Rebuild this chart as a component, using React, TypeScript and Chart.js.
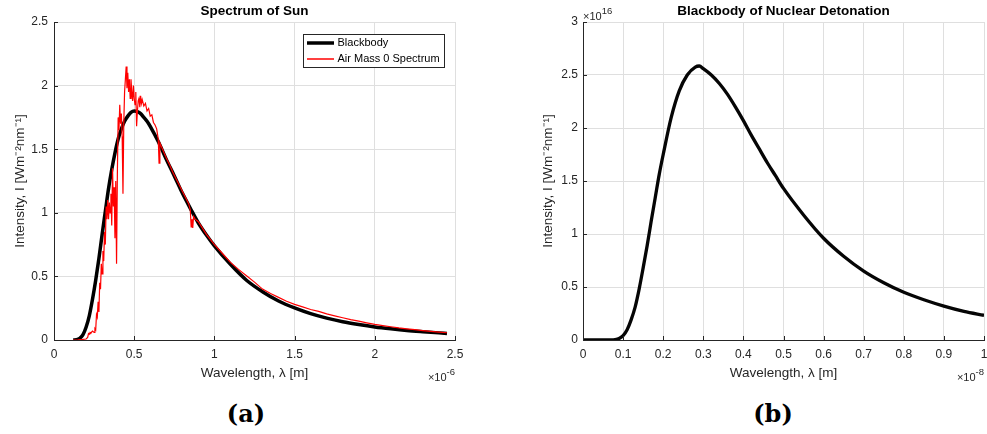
import React, { useEffect, useRef } from "react";
import { Chart, registerables } from "chart.js";
Chart.register(...registerables);

// ---------- Data (panel a: Spectrum of Sun, x in 1e-6 m) ----------
const sunBlackbodyWl = [0.12, 0.14, 0.16, 0.18, 0.2, 0.22, 0.24, 0.26, 0.28, 0.3, 0.32, 0.34, 0.36, 0.38, 0.4, 0.42, 0.44, 0.46, 0.48, 0.5, 0.52, 0.54, 0.56, 0.58, 0.6, 0.65, 0.7, 0.75, 0.8, 0.85, 0.9, 0.95, 1.0, 1.1, 1.2, 1.3, 1.4, 1.5, 1.6, 1.7, 1.8, 1.9, 2.0, 2.1, 2.2, 2.3, 2.4, 2.45];
const sunBlackbodyI = [0.0, 0.002, 0.012, 0.04, 0.1, 0.19, 0.32, 0.47, 0.64, 0.83, 1.01, 1.19, 1.34, 1.47, 1.58, 1.66, 1.72, 1.76, 1.79, 1.8, 1.795, 1.78, 1.75, 1.72, 1.68, 1.56, 1.42, 1.29, 1.155, 1.035, 0.92, 0.825, 0.74, 0.595, 0.47, 0.38, 0.307, 0.252, 0.207, 0.172, 0.144, 0.122, 0.103, 0.088, 0.075, 0.065, 0.056, 0.052];

const am0Wl = [0.12, 0.15, 0.18, 0.2, 0.21, 0.215, 0.22, 0.225, 0.23, 0.24, 0.25, 0.255, 0.26, 0.265, 0.27, 0.275, 0.28, 0.285, 0.29, 0.295, 0.3, 0.305, 0.31, 0.315, 0.32, 0.325, 0.33, 0.335, 0.34, 0.345, 0.35, 0.355, 0.36, 0.365, 0.37, 0.375, 0.38, 0.385, 0.39, 0.395, 0.4, 0.405, 0.41, 0.415, 0.42, 0.425, 0.43, 0.435, 0.44, 0.445, 0.45, 0.455, 0.46, 0.465, 0.47, 0.475, 0.48, 0.485, 0.49, 0.495, 0.5, 0.505, 0.51, 0.515, 0.52, 0.525, 0.53, 0.535, 0.54, 0.545, 0.55, 0.56, 0.57, 0.58, 0.59, 0.6, 0.61, 0.62, 0.63, 0.64, 0.65, 0.655, 0.66, 0.67, 0.68, 0.69, 0.7, 0.72, 0.74, 0.76, 0.78, 0.8, 0.82, 0.84, 0.85, 0.855, 0.86, 0.865, 0.87, 0.88, 0.9, 0.95, 1.0, 1.05, 1.1, 1.15, 1.2, 1.25, 1.3, 1.35, 1.4, 1.45, 1.5, 1.55, 1.6, 1.65, 1.7, 1.75, 1.8, 1.85, 1.9, 1.95, 2.0, 2.05, 2.1, 2.15, 2.2, 2.25, 2.3, 2.35, 2.4, 2.45];
const am0I = [0.0, 0.002, 0.005, 0.008, 0.02, 0.05, 0.045, 0.06, 0.055, 0.07, 0.06, 0.09, 0.08, 0.2, 0.18, 0.3, 0.22, 0.45, 0.4, 0.6, 0.52, 0.7, 0.62, 0.85, 0.75, 1.05, 0.95, 1.1, 0.95, 1.08, 1.0, 1.15, 0.9, 1.35, 1.05, 1.2, 0.8, 1.25, 0.6, 1.3, 1.75, 1.65, 1.85, 1.7, 1.78, 1.6, 1.15, 1.7, 1.95, 2.05, 2.15, 1.98, 2.1, 1.95, 2.05, 1.9, 2.05, 1.95, 1.88, 2.0, 1.9, 1.85, 1.95, 1.68, 1.8, 1.88, 1.9, 1.83, 1.92, 1.86, 1.89, 1.84, 1.86, 1.8, 1.82, 1.76, 1.77, 1.71, 1.69, 1.66, 1.58, 1.39, 1.55, 1.52, 1.49, 1.46, 1.43, 1.38, 1.32, 1.27, 1.22, 1.17, 1.12, 1.07, 1.02, 0.89, 0.95, 0.88, 0.97, 0.95, 0.93, 0.83, 0.75, 0.68, 0.61, 0.555, 0.505, 0.455, 0.4, 0.365, 0.335, 0.305, 0.28, 0.26, 0.24, 0.225, 0.205, 0.19, 0.175, 0.16, 0.148, 0.135, 0.123, 0.113, 0.104, 0.095, 0.088, 0.081, 0.074, 0.068, 0.062, 0.057];

// ---------- Data (panel b: Nuclear detonation, x in 1e-8 m, y in 1e16) ----------
const nukeWl = [0, 0.02, 0.04, 0.06, 0.07, 0.08, 0.09, 0.1, 0.11, 0.12, 0.13, 0.14, 0.15, 0.16, 0.17, 0.18, 0.19, 0.2, 0.22, 0.24, 0.26, 0.28, 0.29, 0.3, 0.32, 0.34, 0.36, 0.38, 0.4, 0.42, 0.44, 0.46, 0.48, 0.5, 0.55, 0.6, 0.65, 0.7, 0.75, 0.8, 0.85, 0.9, 0.95, 1.0];
const nukeI = [0, 0, 0, 0, 0.0003, 0.0035, 0.0145, 0.042, 0.097, 0.19, 0.31, 0.48, 0.68, 0.89, 1.12, 1.34, 1.56, 1.75, 2.1, 2.35, 2.5, 2.575, 2.585, 2.56, 2.5, 2.42, 2.32, 2.2, 2.07, 1.93, 1.8, 1.67, 1.55, 1.43, 1.18, 0.96, 0.79, 0.65, 0.54, 0.45, 0.38, 0.32, 0.27, 0.233];

// ---------- Ticks / labels ----------
const xTicksA = [0, 0.5, 1, 1.5, 2, 2.5];
const yTicksA = [0, 0.5, 1, 1.5, 2, 2.5];
const xTicksB = [0, 0.1, 0.2, 0.3, 0.4, 0.5, 0.6, 0.7, 0.8, 0.9, 1];
const yTicksB = [0, 0.5, 1, 1.5, 2, 2.5, 3];
const legendLabelsA = ["Blackbody", "Air Mass 0 Spectrum"];
const titleA = "Spectrum of Sun";
const titleB = "Blackbody of Nuclear Detonation";
const xTitle = "Wavelength, λ [m]";
const yTitle = "Intensity, I [Wm⁻²nm⁻¹]";
const xExpA = "-6";
const xExpB = "-8";
const yExpB = "16";

const FONT = "'Liberation Sans', Arial, Helvetica, sans-serif";
const AXIS = "#262626";
const GRID = "#dfdfdf";

function fmt(v: number) {
  return String(Math.round(v * 1000) / 1000);
}

function drawExp(ctx: CanvasRenderingContext2D, x: number, y: number, sup: string, alignRight: boolean) {
  ctx.save();
  ctx.fillStyle = AXIS;
  ctx.textBaseline = "alphabetic";
  ctx.textAlign = "left";
  ctx.font = `11px ${FONT}`;
  const base = "×10";
  const wb = ctx.measureText(base).width;
  ctx.font = `9.5px ${FONT}`;
  const ws = ctx.measureText(sup).width;
  const sx = alignRight ? x - wb - ws : x;
  ctx.font = `11px ${FONT}`;
  ctx.fillText(base, sx, y);
  ctx.font = `9.5px ${FONT}`;
  ctx.fillText(sup, sx + wb, y - 6);
  ctx.restore();
}

type Extras = {
  xExp?: string;
  yExp?: string;
  legend?: { label: string; color: string; width: number }[];
};

function extrasPlugin(cfg: Extras) {
  return {
    id: "extras",
    afterDraw(chart: any) {
      const ctx: CanvasRenderingContext2D = chart.ctx;
      const { left, right, top, bottom } = chart.chartArea;
      const xs = chart.scales.x;
      const ys = chart.scales.y;
      ctx.save();
      ctx.strokeStyle = AXIS;
      ctx.lineWidth = 1;
      ctx.beginPath();
      xs.ticks.forEach((t: any) => {
        const p = Math.round(xs.getPixelForValue(t.value)) + 0.5;
        ctx.moveTo(p, bottom);
        ctx.lineTo(p, bottom - 4);
      });
      ys.ticks.forEach((t: any) => {
        const p = Math.round(ys.getPixelForValue(t.value)) + 0.5;
        ctx.moveTo(left, p);
        ctx.lineTo(left + 4, p);
      });
      ctx.stroke();
      ctx.restore();

      if (cfg.xExp) drawExp(ctx, right, bottom + 41, cfg.xExp, true);
      if (cfg.yExp) drawExp(ctx, left, top - 2, cfg.yExp, false);

      if (cfg.legend) {
        const bx = Math.round(right - 152) + 0.5;
        const by = Math.round(top + 12) + 0.5;
        const bw = 141;
        const bh = 33;
        ctx.save();
        ctx.fillStyle = "#ffffff";
        ctx.fillRect(bx, by, bw, bh);
        ctx.strokeStyle = AXIS;
        ctx.lineWidth = 1;
        ctx.strokeRect(bx, by, bw, bh);
        cfg.legend.forEach((item, i) => {
          const ly = by + 8.5 + i * 16;
          ctx.strokeStyle = item.color;
          ctx.lineWidth = item.width;
          ctx.beginPath();
          ctx.moveTo(bx + 3.5, ly);
          ctx.lineTo(bx + 30.5, ly);
          ctx.stroke();
          ctx.fillStyle = "#000000";
          ctx.font = `11px ${FONT}`;
          ctx.textBaseline = "middle";
          ctx.textAlign = "left";
          ctx.fillText(item.label, bx + 34, ly);
        });
        ctx.restore();
      }
    },
  };
}

type PanelProps = {
  width: number;
  height: number;
  datasets: any[];
  xTicks: number[];
  yTicks: number[];
  title: string;
  yAxisWidth: number;
  padRight: number;
  yTitlePad: number;
  yTickPad: number;
  extras: Extras;
};

function Panel(p: PanelProps) {
  const ref = useRef<HTMLCanvasElement | null>(null);
  useEffect(() => {
    if (!ref.current) return;
    const xMin = p.xTicks[0];
    const xMax = p.xTicks[p.xTicks.length - 1];
    const yMin = p.yTicks[0];
    const yMax = p.yTicks[p.yTicks.length - 1];
    const chart = new Chart(ref.current, {
      type: "line",
      data: { datasets: p.datasets },
      options: {
        responsive: false,
        animation: false,
        devicePixelRatio: 1,
        layout: { padding: { left: 0, right: p.padRight, top: 0, bottom: 0 } },
        plugins: {
          legend: { display: false },
          tooltip: { enabled: false },
          title: {
            display: true,
            text: p.title,
            fullSize: false,
            color: "#000000",
            font: { family: FONT, size: 13.5, weight: "bold" },
            padding: { top: 3.5, bottom: 2.3 },
          },
        },
        elements: { point: { radius: 0 } },
        scales: {
          x: {
            type: "linear",
            min: xMin,
            max: xMax,
            afterBuildTicks: (s: any) => {
              s.ticks = p.xTicks.map((v) => ({ value: v }));
            },
            afterFit: (s: any) => {
              s.height = 50;
              s.paddingLeft = 0;
              s.paddingRight = 0;
            },
            grid: { color: GRID, drawTicks: false, lineWidth: 1 },
            border: { color: AXIS, width: 1 },
            ticks: {
              color: AXIS,
              font: { family: FONT, size: 12 },
              padding: 7,
              autoSkip: false,
              maxRotation: 0,
              callback: (v: any) => fmt(Number(v)),
            },
            title: {
              display: true,
              text: xTitle,
              color: AXIS,
              font: { family: FONT, size: 13.5 },
              padding: { top: 0, bottom: 8.9 },
            },
          },
          y: {
            type: "linear",
            min: yMin,
            max: yMax,
            afterBuildTicks: (s: any) => {
              s.ticks = p.yTicks.map((v) => ({ value: v }));
            },
            afterFit: (s: any) => {
              s.width = p.yAxisWidth;
              s.paddingTop = 0;
              s.paddingBottom = 0;
            },
            grid: { color: GRID, drawTicks: false, lineWidth: 1 },
            border: { color: AXIS, width: 1 },
            ticks: {
              color: AXIS,
              font: { family: FONT, size: 12 },
              padding: p.yTickPad,
              autoSkip: false,
              callback: (v: any) => fmt(Number(v)),
            },
            title: {
              display: true,
              text: yTitle,
              color: AXIS,
              font: { family: FONT, size: 13.5 },
              padding: { top: p.yTitlePad, bottom: 0 },
            },
          },
        },
      } as any,
      plugins: [extrasPlugin(p.extras)],
    });
    return () => chart.destroy();
  }, []);
  return <canvas ref={ref} width={p.width} height={p.height} style={{ display: "block", width: p.width, height: p.height }} />;
}

function zip(xs: number[], ys: number[]) {
  return xs.map((x, i) => ({ x, y: ys[i] }));
}

export default function App() {
  const datasetsA = [
    {
      label: legendLabelsA[0],
      data: zip(sunBlackbodyWl, sunBlackbodyI),
      borderColor: "#000000",
      borderWidth: 3.5,
      cubicInterpolationMode: "monotone",
      pointRadius: 0,
      order: 2,
    },
    {
      label: legendLabelsA[1],
      data: zip(am0Wl, am0I),
      borderColor: "#ff0000",
      borderWidth: 1.2,
      tension: 0,
      pointRadius: 0,
      order: 1,
    },
  ];
  const datasetsB = [
    {
      label: "Blackbody",
      data: zip(nukeWl, nukeI),
      borderColor: "#050505",
      borderWidth: 3.3,
      cubicInterpolationMode: "monotone",
      pointRadius: 0,
    },
  ];
  const caption: React.CSSProperties = {
    position: "absolute",
    top: 398,
    width: 80,
    textAlign: "center",
    fontFamily: "'DejaVu Serif', 'Liberation Serif', serif",
    fontWeight: "bold",
    fontSize: 24,
    lineHeight: "32px",
    color: "#000",
  };
  return (
    <div style={{ position: "absolute", left: 0, top: 0, width: 987, height: 434, background: "#fff", overflow: "hidden" }}>
      <div style={{ position: "absolute", left: 0, top: 0 }}>
        <Panel
          width={480}
          height={390}
          datasets={datasetsA}
          xTicks={xTicksA}
          yTicks={yTicksA}
          title={titleA}
          yAxisWidth={54}
          padRight={25}
          yTitlePad={11.9}
          yTickPad={6}
          extras={{
            xExp: xExpA,
            legend: [
              { label: legendLabelsA[0], color: "#000000", width: 3.5 },
              { label: legendLabelsA[1], color: "#ff0000", width: 1.5 },
            ],
          }}
        />
      </div>
      <div style={{ position: "absolute", left: 495, top: 0 }}>
        <Panel
          width={492}
          height={390}
          datasets={datasetsB}
          xTicks={xTicksB}
          yTicks={yTicksB}
          title={titleB}
          yAxisWidth={88}
          padRight={3}
          yTitlePad={45}
          yTickPad={5}
          extras={{ xExp: xExpB, yExp: yExpB }}
        />
      </div>
      <div style={{ ...caption, left: 206 }}>(a)</div>
      <div style={{ ...caption, left: 733 }}>(b)</div>
    </div>
  );
}
